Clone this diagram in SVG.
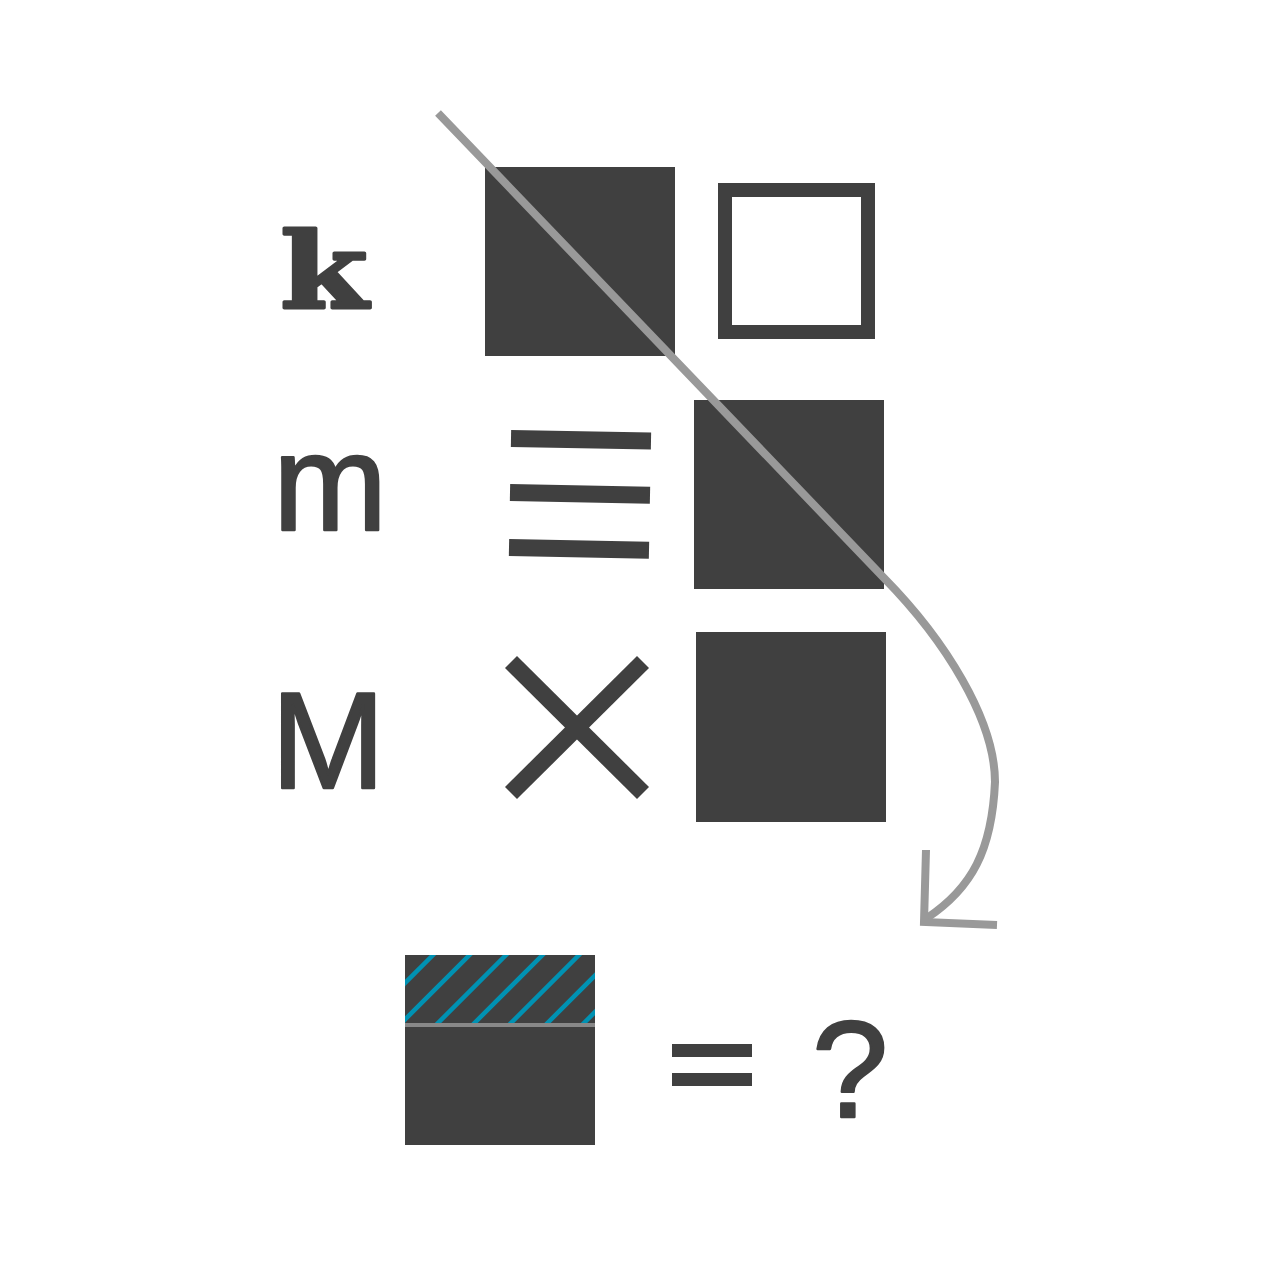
<svg xmlns="http://www.w3.org/2000/svg" width="1280" height="1280" viewBox="0 0 1280 1280">
  <style>
    .fill { fill: #404040; }
    .bar { stroke: #404040; stroke-width: 17; fill: none; }
    .lbl { fill: #404040; stroke: #404040; stroke-width: 2.5; stroke-linejoin: round; font-family: "Liberation Sans", Arial, sans-serif; font-size: 137px; }
    .hatch { stroke: #0092b3; stroke-width: 4.5; }
    .conn { stroke: #999999; stroke-width: 8; fill: none; }
  </style>
  <defs>
    <clipPath id="hclip"><rect x="405" y="955" width="190" height="70"/></clipPath>
  </defs>
  <rect width="1280" height="1280" fill="#ffffff"/>

  <g id="label-k"><text transform="translate(280,308) scale(1.22,1)" x="0" y="0" font-family="DejaVu Serif, serif" font-weight="bold" font-size="104" fill="#404040" stroke="#404040" stroke-width="3" stroke-linejoin="round">k</text></g>
  <g id="label-m"><text class="lbl" x="273" y="530" font-size="124">m</text></g>
  <g id="label-M"><text class="lbl" x="271" y="788">M</text></g>

  <g id="k-filled"><rect class="fill" x="485" y="167" width="190" height="189"/></g>
  <g id="k-empty"><rect x="725" y="190" width="143" height="142" fill="none" stroke="#404040" stroke-width="14"/></g>

  <g id="m-bars">
    <line class="bar" x1="511" y1="438.5" x2="651" y2="441"/>
    <line class="bar" x1="510" y1="492.5" x2="650" y2="495.3"/>
    <line class="bar" x1="509" y1="547.5" x2="649" y2="550.3"/>
  </g>
  <g id="m-filled"><rect class="fill" x="694" y="400" width="190" height="189"/></g>

  <g id="M-cross">
    <line class="bar" x1="511" y1="662" x2="643" y2="793"/>
    <line class="bar" x1="643" y1="662" x2="511" y2="793"/>
  </g>
  <g id="M-filled"><rect class="fill" x="696" y="632" width="190" height="190"/></g>

  <g id="connectors">
    <path class="conn" d="M438,113 L884,578 C945,640 995,720 995,782 C992,850 972,888 927,918"/>
    <polyline class="conn" points="926,850 924,922 997,925"/>
  </g>

  <g id="result">
    <rect class="fill" x="405" y="955" width="190" height="190"/>
    <g clip-path="url(#hclip)">
      <line class="hatch" x1="353" y1="1035" x2="443" y2="945"/>
      <line class="hatch" x1="389.5" y1="1035" x2="479.5" y2="945"/>
      <line class="hatch" x1="426" y1="1035" x2="516" y2="945"/>
      <line class="hatch" x1="462.5" y1="1035" x2="552.5" y2="945"/>
      <line class="hatch" x1="499" y1="1035" x2="589" y2="945"/>
      <line class="hatch" x1="535.5" y1="1035" x2="625.5" y2="945"/>
      <line class="hatch" x1="572" y1="1035" x2="662" y2="945"/>
    </g>
    <line x1="405" y1="1025" x2="595" y2="1025" stroke="#888888" stroke-width="4"/>
  </g>

  <g id="equals">
    <rect class="fill" x="672" y="1044" width="80" height="13"/>
    <rect class="fill" x="672" y="1073" width="80" height="13"/>
  </g>
  <g id="question"><text class="lbl" x="812" y="1117">?</text></g>
</svg>
